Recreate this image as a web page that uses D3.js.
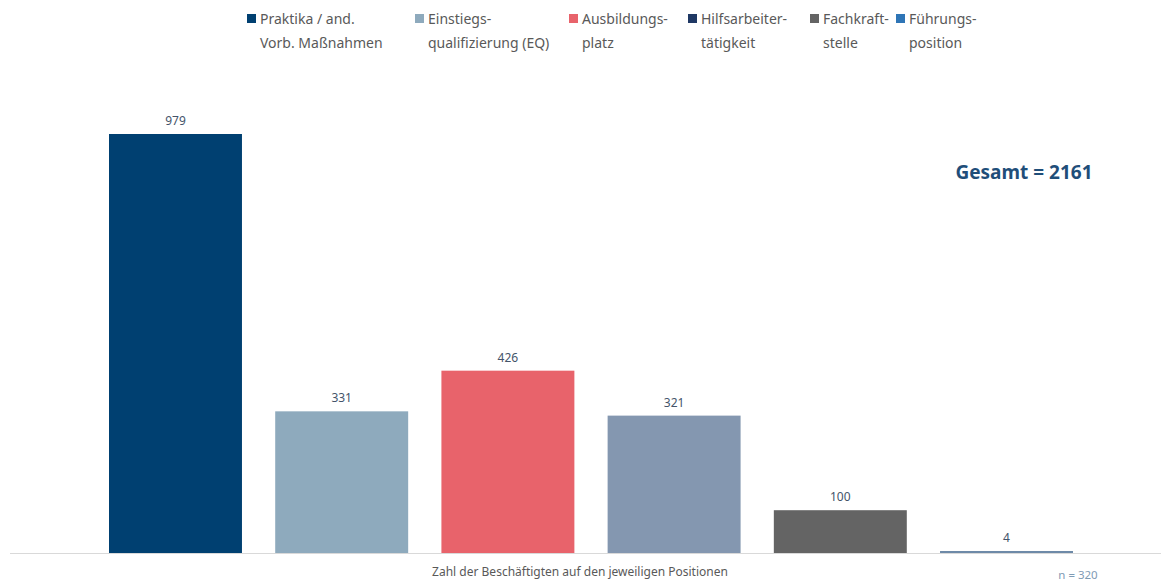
<!DOCTYPE html>
<html>
<head>
<meta charset="utf-8">
<script src="https://cdn.jsdelivr.net/npm/d3@7"></script>
<style>
  body { margin: 0; background: #fff; }
  text { font-family: "Noto Sans", "Open Sans", sans-serif; }
</style>
</head>
<body>
<div id="chart"></div>
<script>
var width = 1161;
var height = 581;

// data
var categories = ["Praktika", "Einstiegsqualifizierung", "Ausbildungsplatz", "Hilfsarbeiter", "Fachkraft", "Fuehrung"];
var values = [979, 331, 426, 321, 100, 4];
var barColors = ["#004071", "#8eaabd", "#e8636b", "#8497b0", "#646464", "#6e8aa8"];
var legendLines = [
	["Praktika / and.", "Vorb. Maßnahmen"],
	["Einstiegs-", "qualifizierung (EQ)"],
	["Ausbildungs-", "platz"],
	["Hilfsarbeiter-", "tätigkeit"],
	["Fachkraft-", "stelle"],
	["Führungs-", "position"]
];
var legendColors = ["#004071", "#8eaabd", "#e8636b", "#1f3864", "#646464", "#2e75b6"];
var legendX = [247, 415, 569, 688, 810, 896];
var totalLabel = "Gesamt = 2161";
var xTitle = "Zahl der Beschäftigten auf den jeweiligen Positionen";
var nLabel = "n = 320";

var svg = d3.select("#chart").append("svg")
			.attr("width", width)
			.attr("height", height);

var x = d3.scaleBand()
		  .domain(categories)
		  .range([109, 1073])
		  .paddingInner(0.2)
		  .paddingOuter(0);

var y = d3.scaleLinear()
		  .domain([0, 979])
		  .range([553, 134]);

// baseline
svg.append("line")
   .attr("x1", 10)
   .attr("x2", 1161)
   .attr("y1", y(0) + 0.5)
   .attr("y2", y(0) + 0.5)
   .attr("stroke", "#d9d9d9")
   .attr("stroke-width", 1.2);

svg.selectAll(".bar")
   .data(values)
   .enter()
   .append("rect")
   .attr("class", "bar")
   .attr("x", function(d, i){ return x(categories[i]); })
   .attr("y", function(d){ return Math.min(y(d), y(0) - 2); })
   .attr("width", x.bandwidth())
   .attr("height", function(d){ return Math.max(y(0) - y(d), 2); })
   .attr("fill", function(d, i){ return barColors[i]; });

svg.selectAll(".val")
   .data(values)
   .enter()
   .append("text")
   .attr("class", "val")
   .attr("x", function(d, i){ return x(categories[i]) + x.bandwidth()/2; })
   .attr("y", function(d){ return y(d) - 9; })
   .attr("text-anchor", "middle")
   .attr("font-size", 12)
   .attr("fill", "#44546a")
   .text(function(d){ return d; });

// legend
var lg = svg.selectAll(".leg")
			.data(legendLines)
			.enter()
			.append("g")
			.attr("class", "leg")
			.attr("transform", function(d, i){ return "translate(" + legendX[i] + ",0)"; });

lg.append("rect")
  .attr("x", 0)
  .attr("y", 14)
  .attr("width", 9)
  .attr("height", 9)
  .attr("fill", function(d, i){ return legendColors[i]; });

lg.append("text")
  .attr("x", 13)
  .attr("y", 24)
  .attr("font-size", 14)
  .attr("fill", "#595959")
  .text(function(d){ return d[0]; });

lg.append("text")
  .attr("x", 13)
  .attr("y", 48)
  .attr("font-size", 14)
  .attr("fill", "#595959")
  .text(function(d){ return d[1]; });

svg.append("text")
   .attr("x", 1024)
   .attr("y", 179)
   .attr("text-anchor", "middle")
   .attr("font-size", 19)
   .attr("font-weight", "bold")
   .attr("fill", "#1f4e79")
   .text(totalLabel);

svg.append("text")
   .attr("x", 580)
   .attr("y", 576)
   .attr("text-anchor", "middle")
   .attr("font-size", 12)
   .attr("fill", "#595959")
   .text(xTitle);

svg.append("text")
   .attr("x", 1078)
   .attr("y", 579)
   .attr("text-anchor", "middle")
   .attr("font-size", 11.5)
   .attr("fill", "#7f9bb5")
   .text(nLabel);
</script>
</body>
</html>
